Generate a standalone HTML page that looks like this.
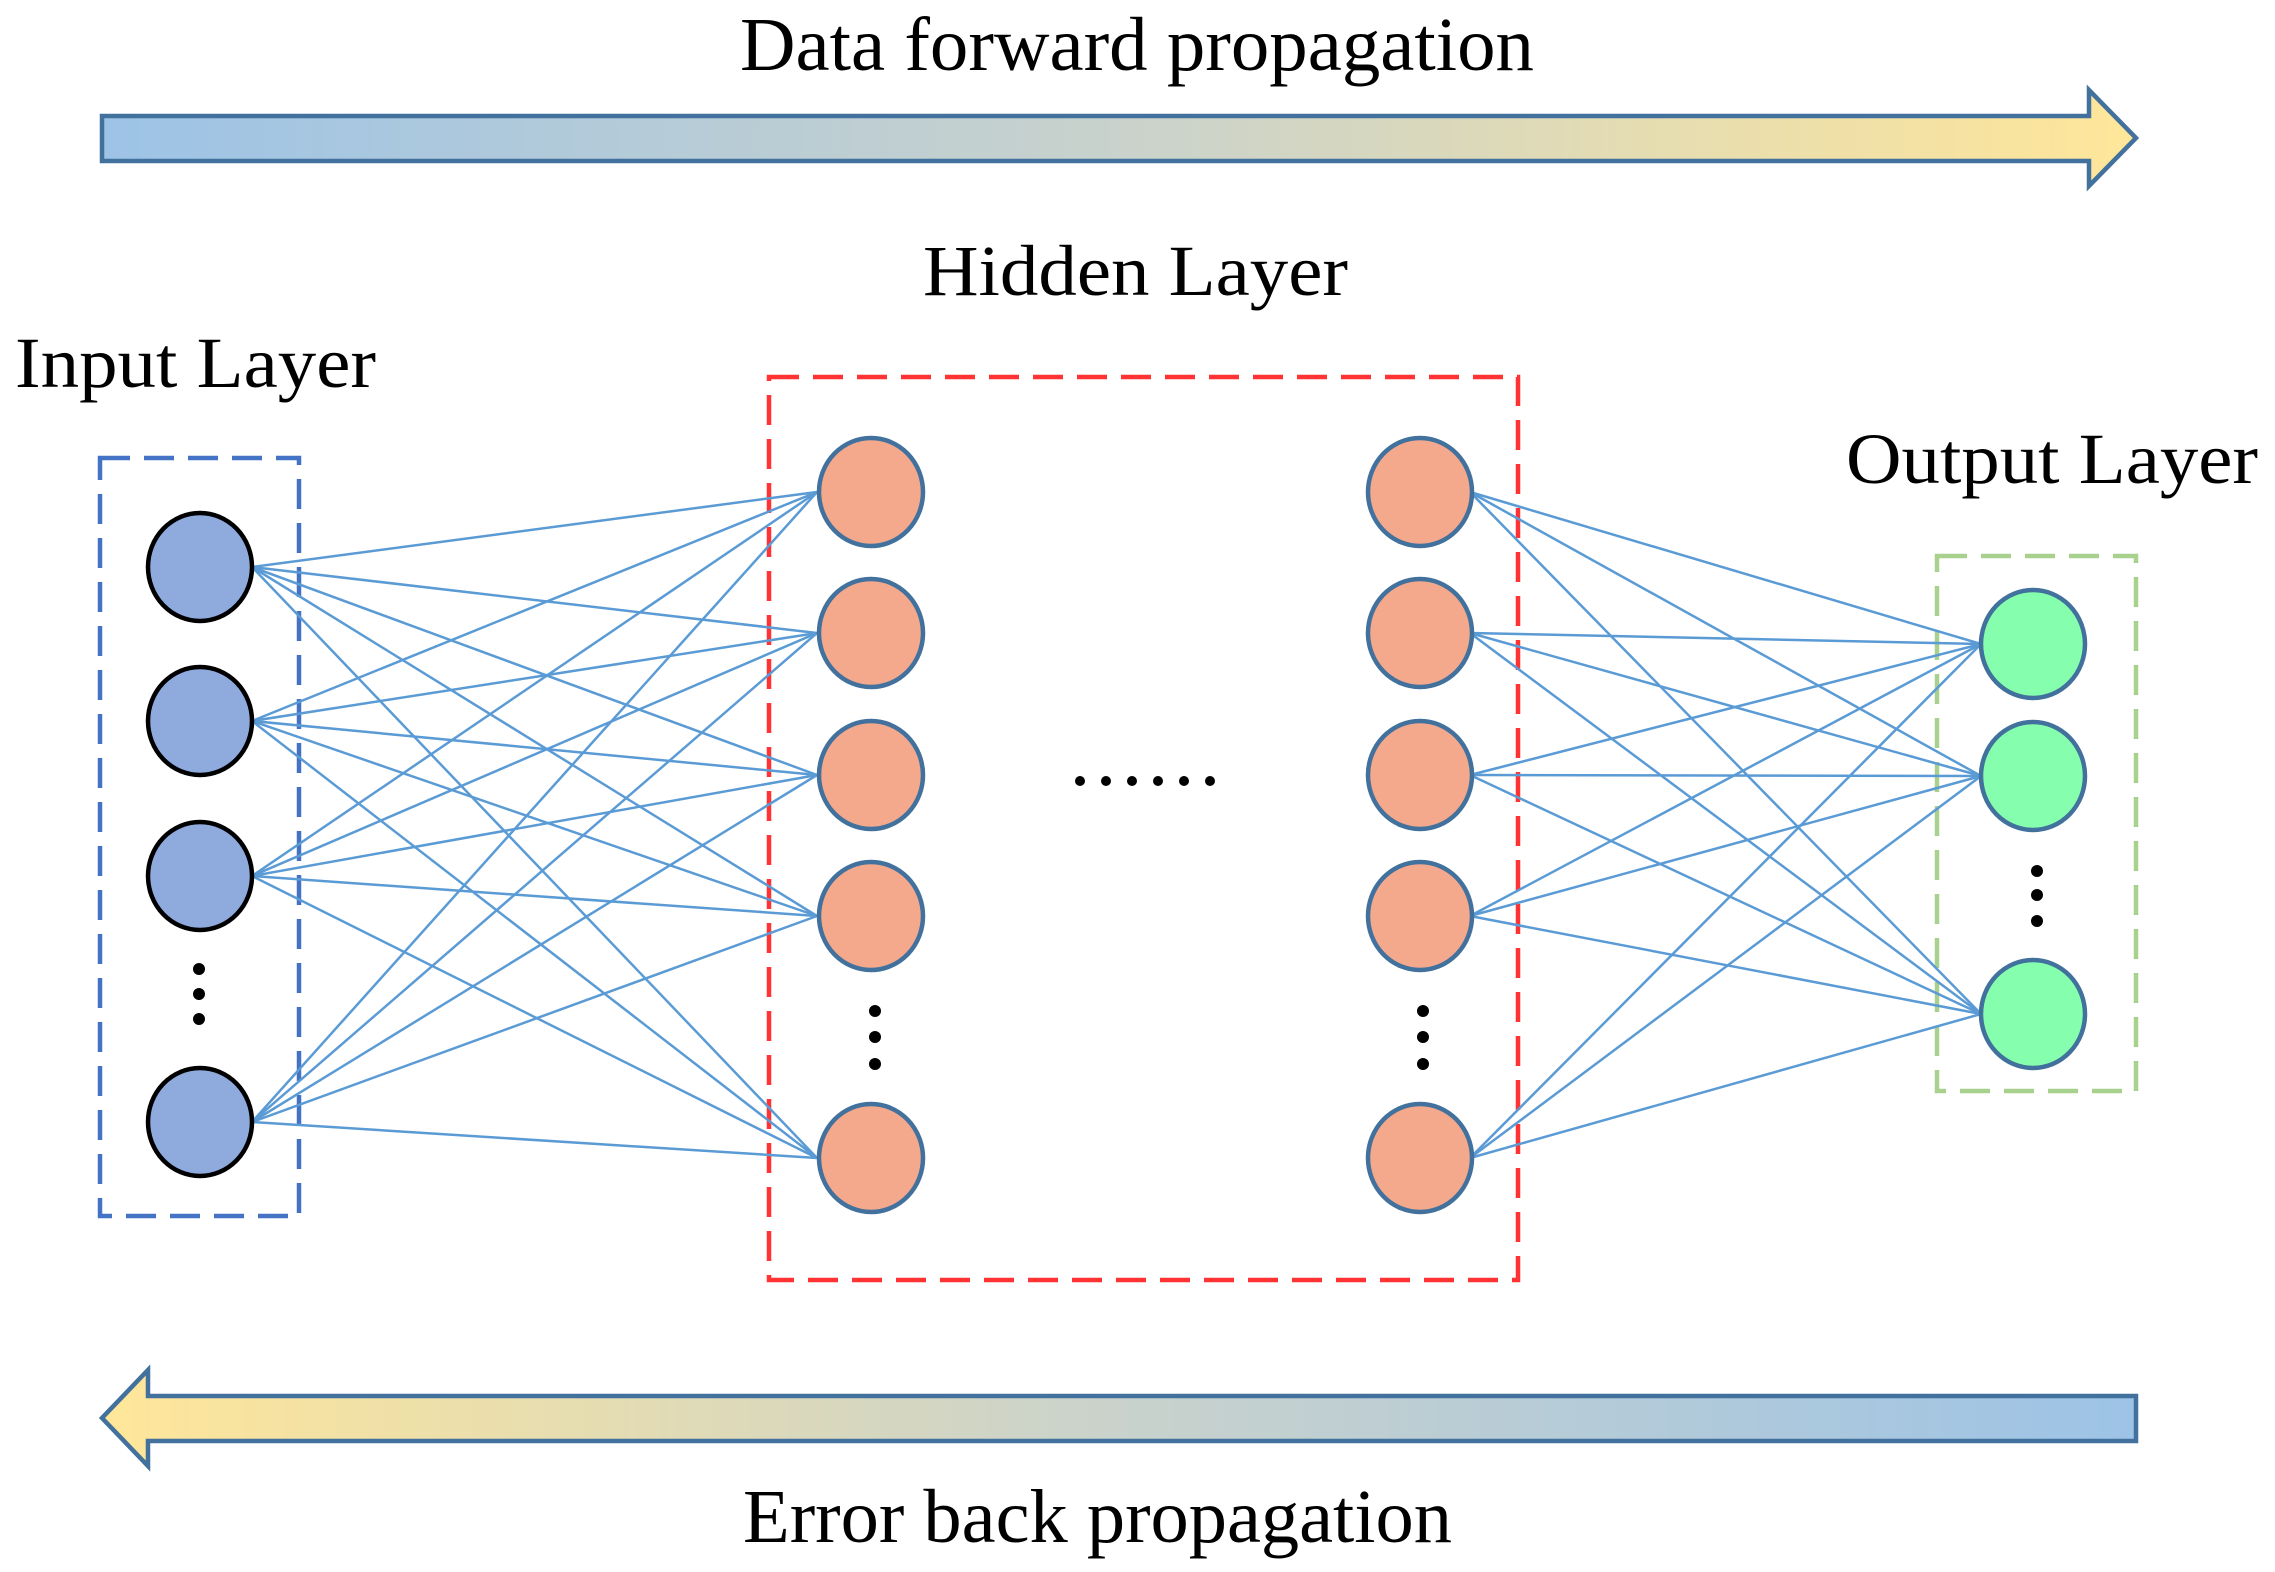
<!DOCTYPE html>
<html><head><meta charset="utf-8"><style>html,body{margin:0;padding:0;background:#fff}svg{display:block}</style></head>
<body>
<svg width="2275" height="1572" viewBox="0 0 2275 1572" xmlns="http://www.w3.org/2000/svg" font-family="'Liberation Serif', serif">
<defs>
<linearGradient id="g1" x1="0" x2="1" y1="0" y2="0"><stop offset="0" stop-color="#9DC3E6"/><stop offset="0.5" stop-color="#C9D2CC"/><stop offset="1" stop-color="#FFE699"/></linearGradient>
<linearGradient id="g2" x1="0" x2="1" y1="0" y2="0"><stop offset="0" stop-color="#FFE699"/><stop offset="0.5" stop-color="#C9D2CC"/><stop offset="1" stop-color="#9DC3E6"/></linearGradient>
</defs>
<text x="740" y="70" font-size="76" textLength="794" lengthAdjust="spacingAndGlyphs">Data forward propagation</text>
<polygon points="102,116 2089,116 2089,90 2136,138 2089,186 2089,161 102,161" fill="url(#g1)" stroke="#41719C" stroke-width="4.5"/>
<text x="923" y="295" font-size="72" textLength="425" lengthAdjust="spacingAndGlyphs">Hidden Layer</text>
<text x="15" y="387" font-size="72" textLength="361" lengthAdjust="spacingAndGlyphs">Input Layer</text>
<text x="1846" y="483" font-size="72" textLength="412" lengthAdjust="spacingAndGlyphs">Output Layer</text>
<text x="743" y="1542" font-size="76" textLength="709" lengthAdjust="spacingAndGlyphs">Error back propagation</text>
<polygon points="2136,1396 148,1396 148,1370 102,1418 148,1466 148,1441 2136,1441" fill="url(#g2)" stroke="#41719C" stroke-width="4.5"/>
<rect x="100" y="458" width="199" height="758" fill="none" stroke="#4472C4" stroke-width="4.5" stroke-dasharray="30,14"/>
<rect x="769" y="377" width="749" height="903" fill="none" stroke="#FF3333" stroke-width="4.5" stroke-dasharray="30,14"/>
<rect x="1937" y="556" width="199" height="535" fill="none" stroke="#A9D18E" stroke-width="4.5" stroke-dasharray="30,14"/>
<g stroke="#5B9BD5" stroke-width="2.5" id="lines"></g>
<g id="nodes"></g>
<g fill="#000">
<circle cx="199" cy="969" r="6"/><circle cx="199" cy="994" r="6"/><circle cx="199" cy="1019" r="6"/>
<circle cx="875" cy="1011" r="6"/><circle cx="875" cy="1037" r="6"/><circle cx="875" cy="1064" r="6"/>
<circle cx="1423" cy="1011" r="6"/><circle cx="1423" cy="1037" r="6"/><circle cx="1423" cy="1064" r="6"/>
<circle cx="2037" cy="871" r="6"/><circle cx="2037" cy="895" r="6"/><circle cx="2037" cy="921" r="6"/>
<circle cx="1080" cy="781" r="5"/><circle cx="1106" cy="781" r="5"/><circle cx="1132" cy="781" r="5"/><circle cx="1158" cy="781" r="5"/><circle cx="1184" cy="781" r="5"/><circle cx="1210" cy="781" r="5"/>
</g>
<script>
var ns="http://www.w3.org/2000/svg";
var inp=[567,721,876,1122], hid=[492,633,775,916,1158], out=[644,776,1014];
var L=document.getElementById("lines"), N=document.getElementById("nodes");
function line(a,b,c,d){var l=document.createElementNS(ns,"line");l.setAttribute("x1",a);l.setAttribute("y1",b);l.setAttribute("x2",c);l.setAttribute("y2",d);L.appendChild(l);}
function node(x,y,f,s){var e=document.createElementNS(ns,"ellipse");e.setAttribute("cx",x);e.setAttribute("cy",y);e.setAttribute("rx",52);e.setAttribute("ry",54);e.setAttribute("fill",f);e.setAttribute("stroke",s);e.setAttribute("stroke-width",4.5);N.appendChild(e);}
inp.forEach(function(a){hid.forEach(function(b){line(252,a,817,b);});});
hid.forEach(function(a){out.forEach(function(b){line(1470,a,1981,b);});});
inp.forEach(function(y){node(200,y,"#8FAADC","#000");});
hid.forEach(function(y){node(871,y,"#F4A98D","#41719C");node(1420,y,"#F4A98D","#41719C");});
out.forEach(function(y){node(2033,y,"#85FFAD","#41719C");});
</script>
</svg>
</body></html>
